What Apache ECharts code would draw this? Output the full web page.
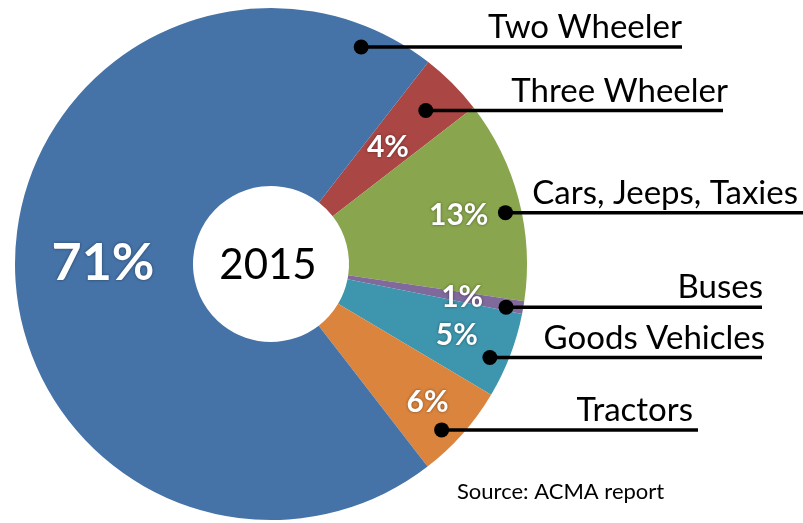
<!DOCTYPE html>
<html>
<head>
<meta charset="utf-8">
<script src="https://cdn.jsdelivr.net/npm/echarts@6/dist/echarts.min.js"></script>
<style>
  html, body { margin: 0; padding: 0; background: #fff; }
  #main { width: 803px; height: 523px; }
</style>
</head>
<body>
<div id="main"></div>
<script>
// vehicle registration share, 2015 (order = clockwise from the red slice)
var categories = ['Three Wheeler', 'Cars, Jeeps, Taxies', 'Buses', 'Goods Vehicles', 'Tractors', 'Two Wheeler'];
var shares = [4.0, 12.8, 0.8, 5.4, 6.0, 71.0];
var colors = ['#AA4643', '#89A54E', '#80699B', '#3D96AE', '#DB843D', '#4572A7'];
var yearLabel = '2015';
var sourceText = 'Source: ACMA report';

// callout styling (where along each slice the dot sits, and where its line ends)
var calloutAnchor = [0.51, 0.55, 0.7, 0.61, 0.625, 0.94];
var calloutRadius = [218, 240, 239, 238, 238, 235];
var calloutLineEnd = [723, 803, 762, 762, 698, 682];
var calloutTextRight = [728, 798, 763, 765, 693, 682];
// radius at which the white percentage text sits
var pctLabelRadius = [165, 194, 194, 199, 209, 168];

var CX = 271, CY = 264;
var FONT = 'Lato, "Open Sans", sans-serif';

var chart = echarts.init(document.getElementById('main'), null, { renderer: 'canvas' });

var pieData = [];
for (var i = 0; i < categories.length; i++) {
    pieData.push({
        name: categories[i],
        value: shares[i],
        itemStyle: { color: colors[i] },
        label: { fontSize: shares[i] > 50 ? 52 : 30 }
    });
}

var option = {
    animation: false,
    title: {
        text: sourceText,
        left: 452,
        top: 476,
        textStyle: { fontFamily: FONT, fontSize: 22, fontWeight: 'normal', color: '#000' }
    },
    series: [{
        type: 'pie',
        silent: true,
        center: [CX, CY],
        radius: [78, 256],
        startAngle: 52.1,
        clockwise: true,
        avoidLabelOverlap: false,
        itemStyle: { borderWidth: 0 },
        label: {
            show: true,
            position: 'inside',
            color: '#fff',
            fontFamily: FONT,
            fontWeight: 'bold',
            textShadowColor: 'rgba(0,0,0,0.45)',
            textShadowBlur: 3,
            formatter: function (p) {
                return Math.round(p.value) + '%';
            }
        },
        labelLine: { show: false },
        labelLayout: function (p) {
            var r = p.labelRect;
            var lx = r.x + r.width / 2, ly = r.y + r.height / 2;
            var a = Math.atan2(ly - CY, lx - CX);
            var R = pctLabelRadius[p.dataIndex];
            return {
                x: CX + R * Math.cos(a),
                y: CY + R * Math.sin(a),
                align: 'center',
                verticalAlign: 'middle'
            };
        },
        data: pieData
    }]
};
chart.setOption(option);

// callouts: dot inside each slice, horizontal rule, name above the rule
function drawCallouts() {
    var data = chart.getModel().getSeriesByIndex(0).getData();
    var graphics = [];
    for (var i = 0; i < categories.length; i++) {
        var lay = data.getItemLayout(i);
        var cx = lay.cx, cy = lay.cy;
        var a = lay.startAngle + calloutAnchor[i] * (lay.endAngle - lay.startAngle);
        var px = cx + calloutRadius[i] * Math.cos(a);
        var py = cy + calloutRadius[i] * Math.sin(a);
        graphics.push({
            type: 'line',
            silent: true,
            z: 100,
            shape: { x1: px, y1: py, x2: calloutLineEnd[i], y2: py },
            style: { stroke: '#000', lineWidth: 3.5 }
        });
        graphics.push({
            type: 'circle',
            silent: true,
            z: 101,
            shape: { cx: px, cy: py, r: 7.5 },
            style: { fill: '#000' }
        });
        graphics.push({
            type: 'text',
            silent: true,
            z: 100,
            x: calloutTextRight[i],
            y: py - 3,
            style: {
                text: categories[i],
                fontFamily: FONT,
                fontSize: 33,
                fill: '#000',
                align: 'right',
                verticalAlign: 'bottom'
            }
        });
    }
    var l0 = data.getItemLayout(0);
    graphics.push({
        type: 'text',
        silent: true,
        z: 100,
        x: l0.cx - 3,
        y: l0.cy + 1,
        style: {
            text: yearLabel,
            fontFamily: FONT,
            fontSize: 42,
            fill: '#000',
            align: 'center',
            verticalAlign: 'middle'
        }
    });
    chart.setOption({ graphic: graphics });
}
drawCallouts();
</script>
</body>
</html>
